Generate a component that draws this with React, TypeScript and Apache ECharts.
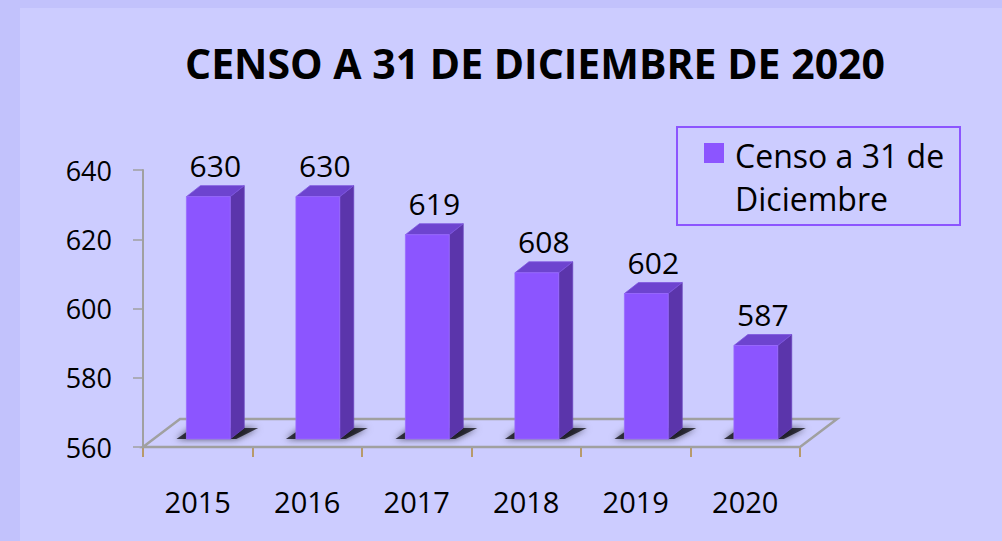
import React, { useEffect, useRef } from "react";
import * as echarts from "echarts";

const categories = ["2015", "2016", "2017", "2018", "2019", "2020"];
const values = [630, 630, 619, 608, 602, 587];
const Y_MIN = 560;
const Y_MAX = 640;
const Y_STEP = 20;
const TITLE = "CENSO A 31 DE DICIEMBRE DE 2020";
const SERIES_NAME = ["Censo a 31 de", "Diciembre"];

const FONT = "'Open Sans', 'Noto Sans', sans-serif";
const FRONT = "#8C55FF";
const SIDE = "#5B35AB";
const TOP = "#6D44CF";
const BG = "#CCCCFF";
const FRAME = "#C2C2FC";
const AXIS_GRAY = "#A0A0A0";

// floor depth (pixels) and bar placement inside floor depth
const DX = 37;
const DY = 28;
const F1 = 8 / 28;
const BDX = 14;
const BDY = 11;

export default function App() {
  const ref = useRef<HTMLDivElement>(null);
  useEffect(() => {
    if (!ref.current) return;
    const chart = echarts.init(ref.current, null, { renderer: "svg" });
    const option: any = {
      animation: false,
      backgroundColor: BG,
      textStyle: { fontFamily: FONT },
      grid: { left: 123, right: 202, top: 162, bottom: 94, containLabel: false },
      xAxis: {
        type: "category",
        data: categories,
        boundaryGap: true,
        axisLine: { show: false },
        axisTick: { show: true, length: 10, lineStyle: { color: "#B08A3A", width: 1.5 } },
        axisLabel: { fontSize: 29, color: "#000", margin: 40, fontFamily: FONT },
        splitLine: { show: false },
      },
      yAxis: {
        type: "value",
        min: Y_MIN,
        max: Y_MAX,
        interval: Y_STEP,
        axisLine: { show: true, lineStyle: { color: AXIS_GRAY, width: 2 } },
        axisTick: { show: true, length: 10, lineStyle: { color: AXIS_GRAY, width: 1.5 } },
        axisLabel: { fontSize: 27, color: "#000", margin: 31, fontFamily: FONT },
        splitLine: { show: false },
      },
      graphic: [
        {
          type: "text",
          x: 515,
          y: 55,
          style: {
            text: TITLE,
            fontSize: 41,
            fontWeight: "bold",
            fontFamily: FONT,
            fill: "#000",
            textAlign: "center",
            textVerticalAlign: "middle",
          },
        },
        {
          type: "rect",
          shape: { x: 657, y: 119, width: 283, height: 98 },
          style: { fill: BG, stroke: FRONT, lineWidth: 2 },
        },
        {
          type: "rect",
          shape: { x: 684, y: 135, width: 20, height: 20 },
          style: { fill: FRONT },
        },
        {
          type: "text",
          x: 715,
          y: 147,
          style: {
            text: SERIES_NAME[0],
            fontSize: 32,
            fontFamily: FONT,
            fill: "#000",
            textAlign: "left",
            textVerticalAlign: "middle",
          },
        },
        {
          type: "text",
          x: 715,
          y: 190,
          style: {
            text: SERIES_NAME[1],
            fontSize: 32,
            fontFamily: FONT,
            fill: "#000",
            textAlign: "left",
            textVerticalAlign: "middle",
          },
        },
      ],
      series: [
        {
          type: "custom",
          name: "floor",
          data: [[0, Y_MIN]],
          z: 1,
          renderItem: (params: any, api: any) => {
            const cs = params.coordSys;
            const bx = cs.x;
            const by = cs.y + cs.height;
            return {
              type: "polygon",
              shape: {
                points: [
                  [bx, by],
                  [bx + cs.width, by],
                  [bx + cs.width + DX, by - DY],
                  [bx + DX, by - DY],
                ],
              },
              style: { fill: "#CECEFF", stroke: AXIS_GRAY, lineWidth: 2.5 },
            };
          },
        },
        {
          type: "custom",
          name: SERIES_NAME.join(" "),
          data: values.map((v, i) => [i, v]),
          z: 2,
          renderItem: (params: any, api: any) => {
            const i = api.value(0);
            const v = api.value(1);
            const top = api.coord([i, v]);
            const base = api.coord([i, Y_MIN]);
            const band = api.size([1, 0])[0];
            const w = band * 0.4;
            const cx = top[0] + DX * F1;
            const x0 = cx - w / 2;
            const x1 = cx + w / 2;
            const yt = top[1] - DY * F1;
            const yb = base[1] - DY * F1;
            return {
              type: "group",
              children: [
                {
                  type: "polygon",
                  shape: {
                    points: [
                      [x0 - 10, yb],
                      [x1 + 6, yb],
                      [x1 + BDX + 14, yb - BDY],
                      [x0 + 6, yb - BDY],
                    ],
                  },
                  style: {
                    fill: "rgba(0,0,0,0.7)",
                    shadowBlur: 7,
                    shadowColor: "rgba(0,0,0,0.9)",
                  },
                },
                {
                  type: "polygon",
                  shape: {
                    points: [
                      [x1, yt],
                      [x1 + BDX, yt - BDY],
                      [x1 + BDX, yb - BDY],
                      [x1, yb],
                    ],
                  },
                  style: { fill: SIDE, stroke: "#6A44BF", lineWidth: 0.8 },
                },
                {
                  type: "polygon",
                  shape: {
                    points: [
                      [x0, yt],
                      [x0 + BDX, yt - BDY],
                      [x1 + BDX, yt - BDY],
                      [x1, yt],
                    ],
                  },
                  style: { fill: TOP, stroke: "#7D55E0", lineWidth: 0.8 },
                },
                {
                  type: "rect",
                  shape: { x: x0, y: yt, width: w, height: yb - yt },
                  style: { fill: FRONT, stroke: "#9A6BFF", lineWidth: 0.8 },
                },
                {
                  type: "text",
                  x: cx + BDX / 2,
                  y: yt - BDY - 20,
                  style: {
                    text: String(v),
                    fontSize: 30,
                    fontFamily: FONT,
                    fill: "#000",
                    textAlign: "center",
                    textVerticalAlign: "middle",
                  },
                },
              ],
            };
          },
        },
      ],
    };
    chart.setOption(option);
    return () => chart.dispose();
  }, []);

  return (
    <div
      style={{
        position: "fixed",
        left: 0,
        top: 0,
        width: 1002,
        height: 541,
        background: FRAME,
      }}
    >
      <div
        ref={ref}
        style={{ position: "absolute", left: 20, top: 8, width: 982, height: 533 }}
      />
    </div>
  );
}
